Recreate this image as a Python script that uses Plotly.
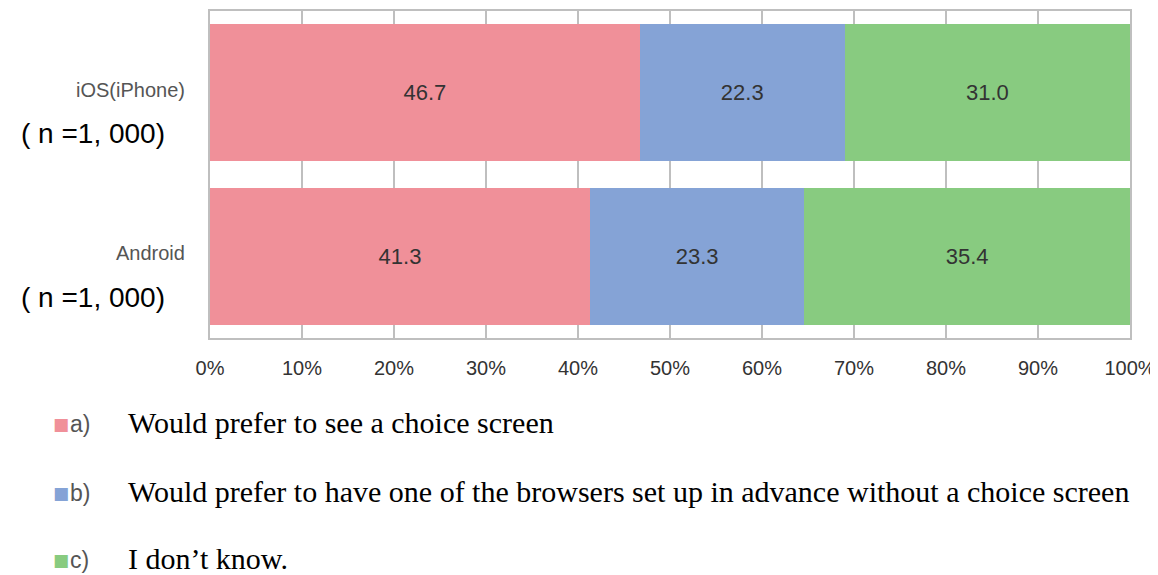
import plotly.graph_objects as go

categories = ["iOS(iPhone)", "Android"]
sample_labels = ["( n =1, 000)", "( n =1, 000)"]
series_names = ["a)", "b)", "c)"]
series_desc = [
    "Would prefer to see a choice screen",
    "Would prefer to have one of the browsers set up in advance without a choice screen",
    "I don’t know.",
]
values_a = [46.7, 41.3]
values_b = [22.3, 23.3]
values_c = [31.0, 35.4]
colors = ["#F09099", "#85A3D6", "#88CB80"]
tick_vals = [0, 10, 20, 30, 40, 50, 60, 70, 80, 90, 100]
tick_text = [f"{v}%" for v in tick_vals]

fig = go.Figure()
for name, vals, col in zip(series_names, [values_a, values_b, values_c], colors):
    fig.add_trace(go.Bar(
        y=categories, x=vals, orientation="h", name=name,
        marker=dict(color=col, line=dict(width=0)),
        text=[f"{v:.1f}" for v in vals], textposition="inside",
        insidetextanchor="middle",
        textfont=dict(family="Liberation Sans", size=22, color="#333333"),
        showlegend=False,
    ))

# category labels
for cat, samp in zip(categories, sample_labels):
    fig.add_annotation(x=0, xref="paper", y=cat, yref="y", xanchor="right",
                       xshift=-23, yshift=3, text=cat, showarrow=False,
                       font=dict(family="Liberation Sans", size=20, color="#555555"))
    fig.add_annotation(x=0, xref="paper", y=cat, yref="y", xanchor="right",
                       xshift=-43, yshift=-41, text=samp, showarrow=False,
                       font=dict(family="Liberation Sans", size=28, color="#000000"))

# legend drawn as annotations
leg_y = [-0.316, -0.526, -0.730]
for name, desc, col, yy in zip(series_names, series_desc, colors, leg_y):
    fig.add_annotation(x=-0.173, xref="paper", y=yy, yref="paper", xanchor="left",
                       yshift=5, text=f"<span style='color:{col}'>■</span>",
                       showarrow=False, font=dict(family="DejaVu Sans", size=17))
    fig.add_annotation(x=-0.154, xref="paper", y=yy, yref="paper", xanchor="left",
                       yshift=2, text=name, showarrow=False,
                       font=dict(family="Liberation Sans", size=23, color="#555555"))
    fig.add_annotation(x=-0.091, xref="paper", y=yy, yref="paper", xanchor="left",
                       text=desc, showarrow=False,
                       font=dict(family="Liberation Serif", size=30, color="#000000"))

fig.update_layout(
    barmode="stack", bargap=0.165,
    width=1150, height=567,
    margin=dict(l=202, r=28, t=1, b=237),
    paper_bgcolor="white", plot_bgcolor="white",
    xaxis=dict(range=[0, 100], tickvals=tick_vals, ticktext=tick_text,
               showgrid=True, gridcolor="#BFBFBF", gridwidth=2,
               showline=True, linecolor="#BFBFBF", linewidth=2, mirror=True,
               zeroline=False, ticks="", ticklabelstandoff=11,
               tickfont=dict(family="Liberation Sans", size=20, color="#333333")),
    yaxis=dict(categoryorder="array", categoryarray=categories, autorange="reversed",
               showticklabels=False, showgrid=False,
               showline=True, linecolor="#BFBFBF", linewidth=2, mirror=True,
               ticks=""),
)

fig.write_html("out.html")
